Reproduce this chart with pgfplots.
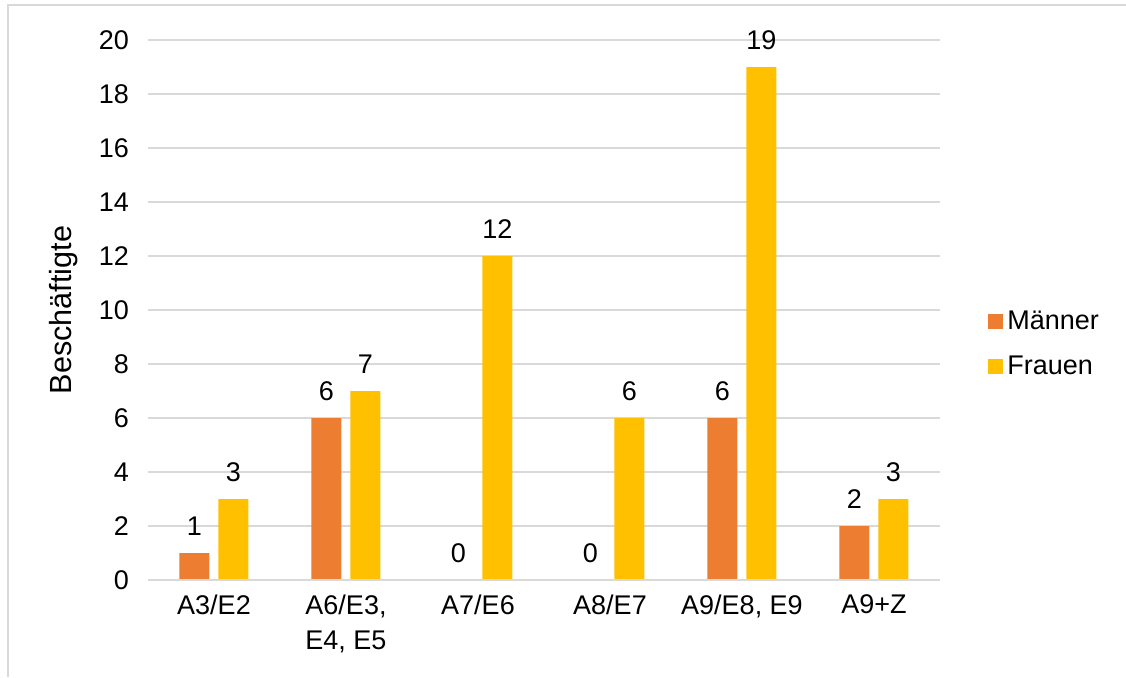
\documentclass[border=0pt]{standalone}
\usepackage{fontspec}
\setmainfont{Liberation Sans}
\usepackage{pgfplots}
\pgfplotsset{compat=1.18}
\definecolor{maenner}{HTML}{ED7D31}
\definecolor{frauen}{HTML}{FFC000}
\definecolor{gridgray}{HTML}{D9D9D9}
\begin{document}
\begin{tikzpicture}
\path[use as bounding box] (0,0) rectangle (563pt,338.5pt);
% outer chart frame (left and top edges)
\draw[gridgray, line width=1.3pt] (4pt,0) -- (4pt,336pt) -- (563pt,336pt);
\begin{axis}[
  at={(74pt,48.5pt)}, anchor=south west,
  scale only axis, width=396pt, height=270pt,
  font=\fontsize{13.5}{17.5}\selectfont,
  /pgf/number format/assume math mode=true,
  ybar, bar width=15pt,
  xmin=-0.5, xmax=5.5, ymin=0, ymax=20,
  ytick={0,2,...,20},
  xtick=data,
  xticklabels={A3/E2, {A6/E3,\\E4, E5}, A7/E6, A8/E7, {A9/E8,\ E9}, A9+Z},
  xticklabel style={align=center, yshift=-4pt},
  yticklabel style={xshift=-6pt},
  major tick length=0pt,
  axis line style={draw=none},
  ymajorgrids, grid style={gridgray, line width=1pt},
  ylabel={Beschäftigte},
  ylabel style={at={(axis description cs:-0.106,0.5)}, anchor=center,
    font=\fontsize{15.3}{18}\selectfont},
  nodes near coords,
  every node near coord/.append style={anchor=center, yshift=13.5pt, font=\fontsize{13.5}{16}\selectfont, text=black},
  legend style={draw=none, at={(1.0606,0.437)}, anchor=west, row sep=8pt,
    font=\fontsize{13.5}{16}\selectfont, inner sep=0pt,
    /tikz/every even column/.append style={column sep=3pt}},
  legend cell align=left,
  legend image code/.code={\fill[#1] (0pt,-3.75pt) rectangle (7.5pt,3.75pt);},
]
\addplot[fill=maenner, draw=none, bar shift=-9.75pt] coordinates {(0,1) (1,6) (2,0) (3,0) (4,6) (5,2)};
\addplot[fill=frauen, draw=none, bar shift=9.75pt] coordinates {(0,3) (1,7) (2,12) (3,6) (4,19) (5,3)};
\legend{Männer, Frauen}
\draw[gridgray, line width=1pt] (rel axis cs:0,0) -- (rel axis cs:1,0);
\end{axis}
\end{tikzpicture}
\end{document}
